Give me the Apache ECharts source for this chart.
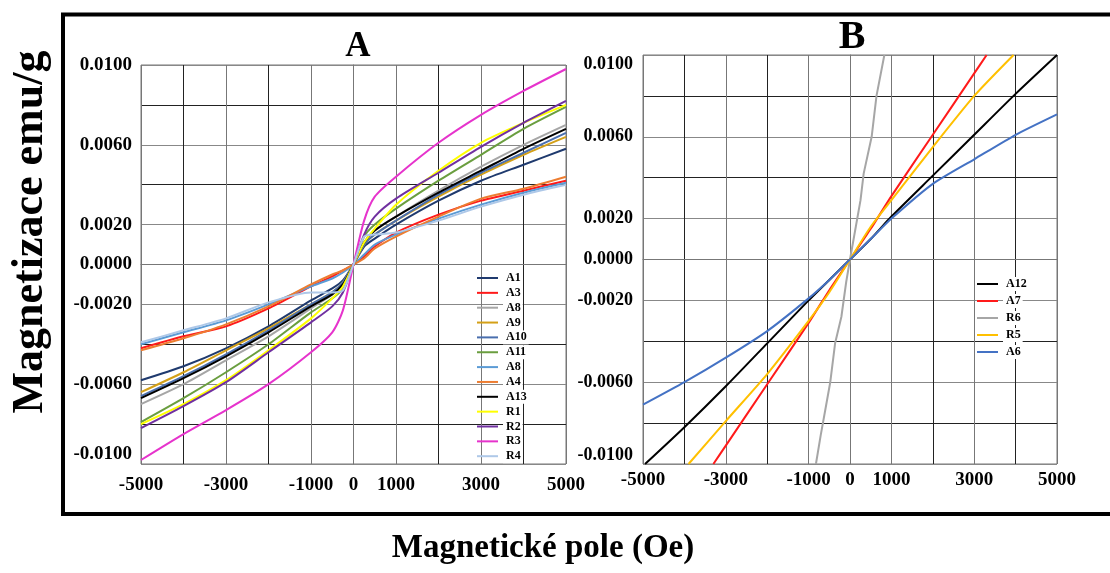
<!DOCTYPE html>
<html>
<head>
<meta charset="utf-8">
<script src="https://cdn.jsdelivr.net/npm/echarts@6/dist/echarts.min.js"></script>
<style>
html,body{margin:0;padding:0;background:#fff;}
#chart{width:1110px;height:573px;}
</style>
</head>
<body>
<div id="chart"></div>
<script>
// ---------- Panel A data ----------
const fieldA = [-5000,-4000,-3000,-2000,-1000,-500,-250,0,250,500,1000,2000,3000,4000,5000];
const A1  = [-0.0058,-0.0051,-0.0042,-0.0031,-0.0018,-0.0012,-0.0008,0,0.0009,0.0013,0.0020,0.0032,0.0042,0.0050,0.0058];
const A3  = [-0.0042,-0.0036,-0.0031,-0.0022,-0.0011,-0.0006,-0.0003,0,0.0004,0.0009,0.0016,0.0025,0.0032,0.0037,0.0042];
const A8  = [-0.0070,-0.0060,-0.0048,-0.0036,-0.0022,-0.0015,-0.0010,0,0.0011,0.0017,0.0024,0.0037,0.0049,0.0060,0.0070];
const A9  = [-0.0064,-0.0054,-0.0043,-0.0032,-0.0020,-0.0014,-0.0009,0,0.0010,0.0015,0.0022,0.0034,0.0045,0.0055,0.0064];
const A10 = [-0.0066,-0.0056,-0.0045,-0.0033,-0.0020,-0.0014,-0.0009,0,0.0010,0.0015,0.0022,0.0035,0.0046,0.0056,0.0066];
const A11 = [-0.0079,-0.0067,-0.0054,-0.0040,-0.0024,-0.0017,-0.0012,0,0.0014,0.0020,0.0028,0.0042,0.0055,0.0068,0.0079];
const A8b = [-0.0040,-0.0034,-0.0028,-0.0020,-0.0011,-0.0007,-0.0004,0,0.0005,0.0010,0.0015,0.0023,0.0030,0.0036,0.0041];
const A4  = [-0.0043,-0.0037,-0.0030,-0.0021,-0.0010,-0.0005,-0.0003,0,0.0003,0.0008,0.0014,0.0024,0.0033,0.0038,0.0044];
const A13 = [-0.0067,-0.0057,-0.0046,-0.0034,-0.0021,-0.0015,-0.0010,0,0.0011,0.0017,0.0024,0.0036,0.0047,0.0058,0.0068];
const R1  = [-0.0080,-0.0070,-0.0058,-0.0043,-0.0027,-0.0017,-0.0011,0,0.0011,0.0018,0.0030,0.0047,0.0061,0.0071,0.0080];
const R2  = [-0.0082,-0.0071,-0.0059,-0.0044,-0.0029,-0.0021,-0.0014,0,0.0015,0.0024,0.0033,0.0046,0.0059,0.0071,0.0082];
const R3  = [-0.0098,-0.0085,-0.0073,-0.0060,-0.0044,-0.0034,-0.0023,0,0.0022,0.0034,0.0044,0.0061,0.0075,0.0087,0.0098];
const R4  = [-0.0039,-0.0033,-0.0027,-0.0019,-0.0014,-0.0014,-0.0013,0,0.0014,0.0015,0.0016,0.0022,0.0029,0.0035,0.0040];
const namesA  = ['A1','A3','A8','A9','A10','A11','A8 ','A4','A13','R1','R2','R3','R4'];
const valuesA = [A1,A3,A8,A9,A10,A11,A8b,A4,A13,R1,R2,R3,R4];
const colorsA = ['#1f3a6e','#ff1a1a','#a6a6a6','#d4a017','#4a6fae','#6a9e3f','#5b9bd5','#ed7d31','#000000','#ffff00','#7030a0','#e633cc','#aec8e8'];

// ---------- Panel B data ----------
const fieldA12 = [-4950,-4000,-3000,-2000,-1000,-500,0,500,1000,2000,3000,4000,5000];
const magA12   = [-0.0100,-0.0082,-0.0062,-0.0041,-0.0020,-0.0010,0,0.0010,0.0021,0.0041,0.0061,0.0081,0.0100];
const fieldA7  = [-3300,-3000,-2000,-1000,-500,0,500,1000,2000,3000,3300];
const magA7    = [-0.0100,-0.0091,-0.0061,-0.0031,-0.0015,0,0.0015,0.0031,0.0061,0.0091,0.0100];
const fieldR6  = [-823,-708,-592,-477,-360,-208,-92,0,140,254,330,523,640,830];
const magR6    = [-0.0100,-0.0086,-0.0073,-0.0060,-0.0041,-0.0028,-0.0011,0,0.0016,0.0029,0.0042,0.0060,0.0080,0.0100];
const fieldR5  = [-3900,-3000,-2000,-1000,-500,0,500,1000,2000,3000,3950];
const magR5    = [-0.0100,-0.0079,-0.0056,-0.0030,-0.0016,0,0.0016,0.0029,0.0055,0.0080,0.0100];
const fieldA6  = [-5000,-4000,-3000,-2000,-1000,-500,0,500,1000,2000,3000,4000,5000];
const magA6    = [-0.0071,-0.0060,-0.0048,-0.0035,-0.0019,-0.0010,0,0.0010,0.0020,0.0037,0.0049,0.0061,0.0071];
const namesB  = ['A12','A7','R6','R5','A6'];
const fieldsB = [fieldA12,fieldA7,fieldR6,fieldR5,fieldA6];
const valuesB = [magA12,magA7,magR6,magR5,magA6];
const colorsB = ['#000000','#ff1a1a','#a6a6a6','#ffc000','#4472c4'];

// ---------- tick labels ----------
const yTickLabels = ['0.0100','0.0060','0.0020','0.0000','-0.0020','-0.0060','-0.0100'];
const xTickLabels = ['-5000','-3000','-1000','0','1000','3000','5000'];

const FONT = '"Liberation Serif", "Times New Roman", serif';

function yFmt(v){
  let s = v.toFixed(4);
  if (s === '-0.0000') s = '0.0000';
  return yTickLabels.includes(s) ? s : '';
}
function xFmt(v){
  const s = String(Math.round(v));
  return xTickLabels.includes(s) ? s : '';
}

function makeX(gi, margin){
  return {
    gridIndex: gi, type: 'value', min: -5000, max: 5000, interval: 1000,
    axisLine: {show: true, lineStyle: {color: '#777', width: 1}},
    axisTick: {show: false},
    splitLine: {show: true, lineStyle: {color: ['#777','#222'], width: 1}},
    axisLabel: {formatter: xFmt, fontFamily: FONT, fontWeight: 'bold', fontSize: 19, color: '#000', margin: margin, showMinLabel: true, showMaxLabel: true}
  };
}
function makeY(gi, margin, fs, maxAlign){
  return {
    gridIndex: gi, type: 'value', min: -0.01, max: 0.01, interval: 0.002,
    axisLine: {show: true, lineStyle: {color: '#777', width: 1}},
    axisTick: {show: false},
    splitLine: {show: true, lineStyle: {color: ['#888','#222'], width: 1}},
    axisLabel: {formatter: yFmt, fontFamily: FONT, fontWeight: 'bold', fontSize: fs, color: '#000', margin: margin,
      showMinLabel: true, showMaxLabel: true,
      verticalAlignMinLabel: 'bottom', verticalAlignMaxLabel: maxAlign}
  };
}

const series = [];
namesA.forEach((n, i) => {
  series.push({
    name: n, type: 'line', xAxisIndex: 0, yAxisIndex: 0,
    data: fieldA.map((h, k) => [h, valuesA[i][k]]),
    symbol: 'none', smooth: 0.25,
    lineStyle: {width: 2, color: colorsA[i]}, itemStyle: {color: colorsA[i]},
    animation: false
  });
});
namesB.forEach((n, i) => {
  series.push({
    name: n, type: 'line', xAxisIndex: 1, yAxisIndex: 1,
    data: fieldsB[i].map((h, k) => [h, valuesB[i][k]]),
    symbol: 'none', smooth: n === 'R6' ? false : 0.2,
    lineStyle: {width: 2, color: colorsB[i]}, itemStyle: {color: colorsB[i]},
    animation: false
  });
});

const legendText = {fontFamily: FONT, fontWeight: 'bold', fontSize: 12, color: '#000', lineHeight: 14, backgroundColor: '#fff', padding: [0, 2, 0, 3]};

const chart = echarts.init(document.getElementById('chart'), null, {renderer: 'canvas'});
chart.setOption({
  backgroundColor: '#fff',
  animation: false,
  title: [
    {text: 'A', left: 353, top: 24, textAlign: 'center', textStyle: {fontFamily: FONT, fontWeight: 'bold', fontSize: 35, color: '#000'}},
    {text: 'B', left: 847, top: 13, textAlign: 'center', textStyle: {fontFamily: FONT, fontWeight: 'bold', fontSize: 40, color: '#000'}}
  ],
  grid: [
    {left: 141, top: 65, width: 425, height: 399, outerBoundsMode: 'none', containLabel: false, show: true, borderColor: '#777', borderWidth: 1, backgroundColor: 'transparent'},
    {left: 643, top: 55, width: 414, height: 409, outerBoundsMode: 'none', containLabel: false, show: true, borderColor: '#777', borderWidth: 1, backgroundColor: 'transparent'}
  ],
  xAxis: [makeX(0, 12), makeX(1, 7)],
  yAxis: [makeY(0, 9, 19, 'middle'), makeY(1, 10, 18, 'top')],
  legend: [
    {data: namesA, orient: 'vertical', left: 472, top: 266, icon: 'rect', itemWidth: 21, itemHeight: 2, itemGap: 0.85,
     textStyle: legendText, formatter: n => n.trim(), selectedMode: false},
    {data: namesB, orient: 'vertical', left: 972, top: 272, icon: 'rect', itemWidth: 21, itemHeight: 2, itemGap: 3,
     textStyle: legendText, formatter: n => n.trim(), selectedMode: false}
  ],
  graphic: [
    {type: 'rect', silent: true, z: 100, shape: {x: 63, y: 14.5, width: 1060, height: 499.5}, style: {fill: 'none', stroke: '#000', lineWidth: 4}},
    {type: 'text', silent: true, x: 31, y: 232, rotation: Math.PI / 2, style: {text: 'Magnetizace emu/g', font: 'bold 44px "Liberation Serif"', fill: '#000', align: 'center', verticalAlign: 'middle'}},
    {type: 'text', silent: true, x: 543, y: 548, style: {text: 'Magnetické pole (Oe)', font: 'bold 33px "Liberation Serif"', fill: '#000', align: 'center', verticalAlign: 'middle'}}
  ],
  series: series
});
</script>
</body>
</html>
